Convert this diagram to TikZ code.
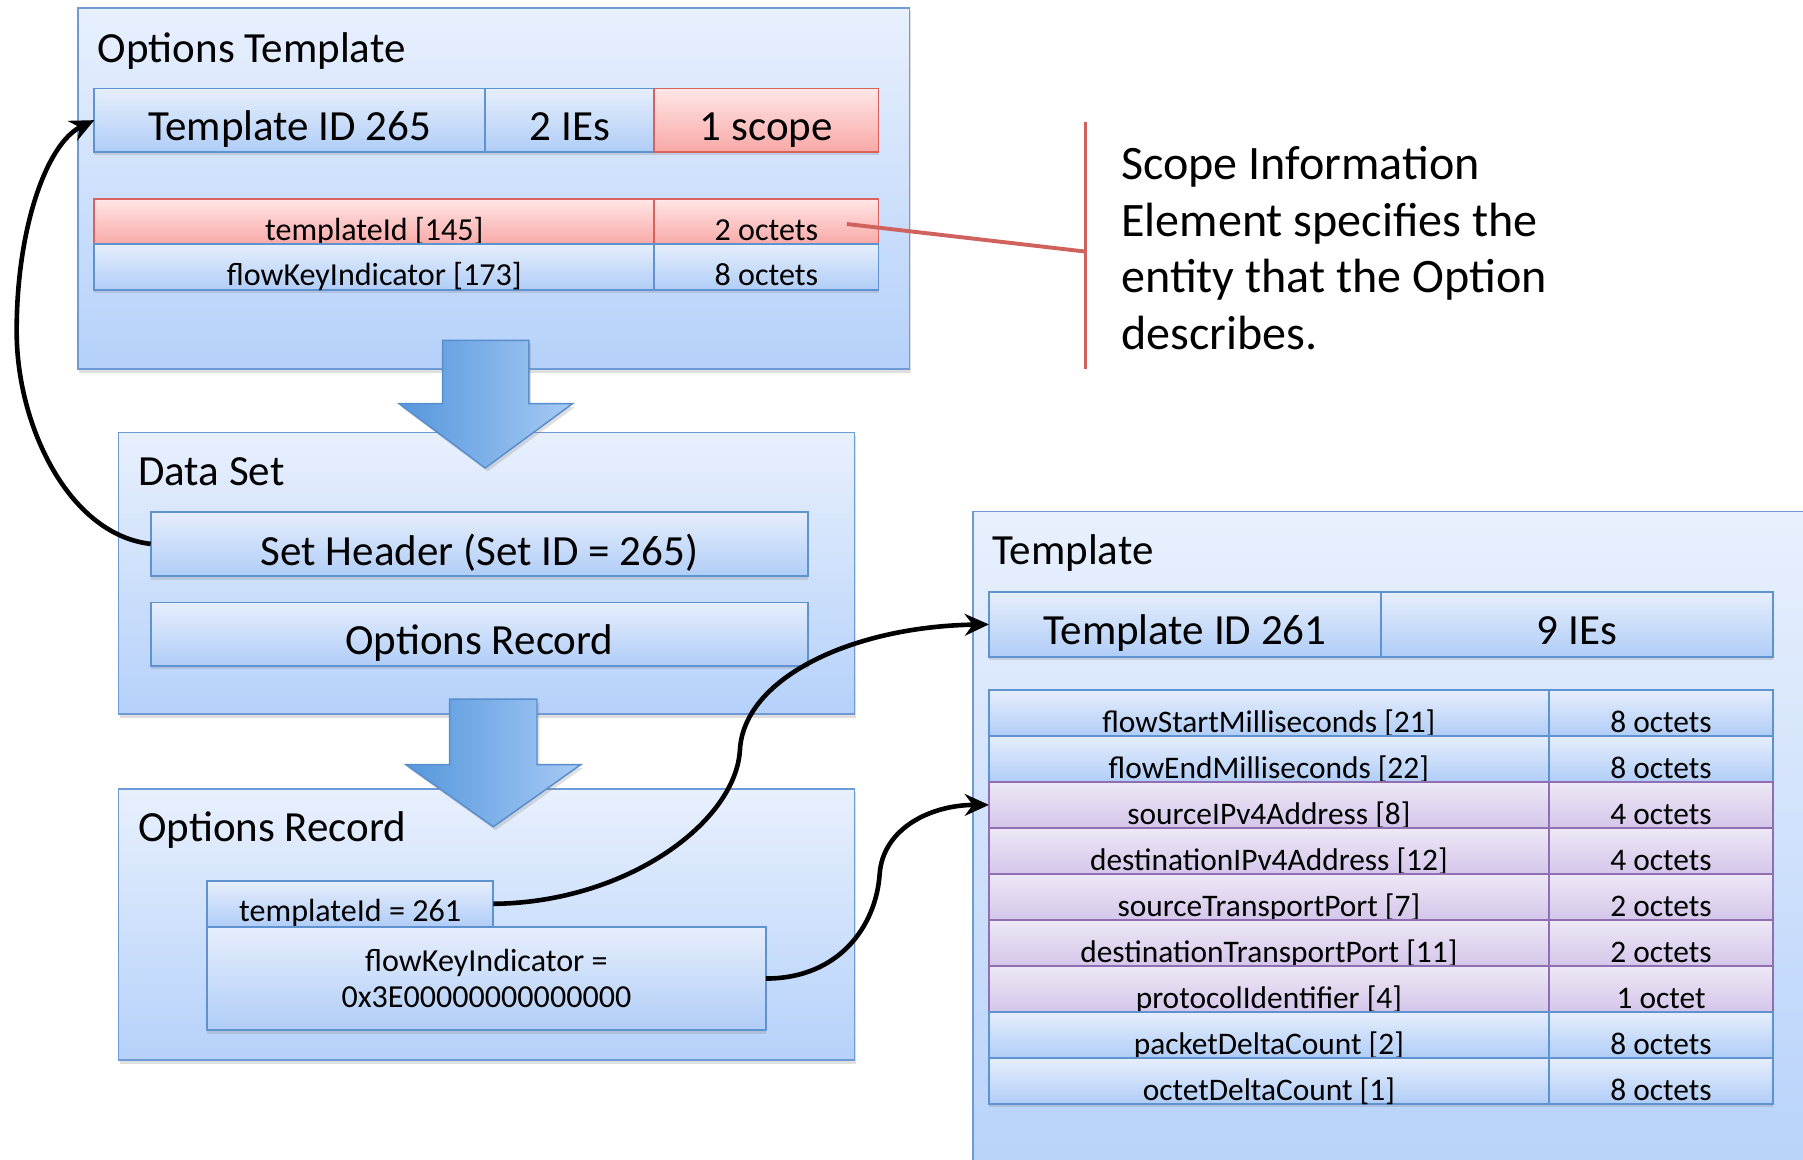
\documentclass[tikz,border=0pt]{standalone}
\usepackage{fontspec}
\setmainfont{Carlito}
\usetikzlibrary{arrows.meta,shadows}
\definecolor{panTop}{HTML}{E8F0FD}
\definecolor{panBot}{HTML}{B5D1FA}
\definecolor{panLine}{HTML}{6E9BD5}
\definecolor{celTop}{HTML}{E6EEFC}
\definecolor{celBot}{HTML}{B0CDF7}
\definecolor{celLine}{HTML}{5F93D0}
\definecolor{redTop}{HTML}{FFE6E6}
\definecolor{redBot}{HTML}{F8A9A7}
\definecolor{redLine}{HTML}{D9625D}
\definecolor{purTop}{HTML}{EEE8F6}
\definecolor{purBot}{HTML}{D4C6EA}
\definecolor{purLine}{HTML}{8D6FB2}
\definecolor{arrL}{HTML}{5597DC}
\definecolor{arrR}{HTML}{A6CAF5}
\definecolor{arrLine}{HTML}{5A8DCC}
\definecolor{calloutCol}{HTML}{D0625D}
\newcommand\myTitleFont{\fontsize{37.4}{44}\selectfont}
\newcommand\myRowFont{\fontsize{27.9}{32}\selectfont}
\newcommand\mySmallFont{\fontsize{27.3}{32}\selectfont}
\newcommand\myCallFont{\fontsize{41.8}{49.3}\selectfont}
\tikzset{
  basebox/.style={inner sep=0pt, outer sep=0pt, anchor=north west},
  panel/.style={basebox, draw=panLine, line width=1.3pt, top color=panTop, bottom color=panBot,
    drop shadow={shadow xshift=1pt, shadow yshift=-3pt, opacity=0.25}},
  bcell/.style={basebox, draw=celLine, line width=1.6pt, top color=celTop, bottom color=celBot,
    drop shadow={shadow xshift=0pt, shadow yshift=-3pt, opacity=0.25}},
  rcell/.style={basebox, draw=redLine, line width=1.6pt, top color=redTop, bottom color=redBot,
    drop shadow={shadow xshift=0pt, shadow yshift=-3pt, opacity=0.25}},
  pcell/.style={basebox, draw=purLine, line width=1.6pt, top color=purTop, bottom color=purBot,
    drop shadow={shadow xshift=0pt, shadow yshift=-3pt, opacity=0.25}},
  hdr/.style={font=\myTitleFont, minimum height=55pt, text depth=0pt},
  orow/.style={font=\myRowFont, minimum height=39.5pt, text height=32pt, text depth=0pt},
  trow/.style={font=\mySmallFont, minimum height=40pt, text height=34pt, text depth=0pt},
  ptitle/.style={anchor=base west, inner sep=0pt, font=\myTitleFont},
  blockarrow/.style={draw=arrLine, line width=1.3pt, left color=arrL, right color=arrR,
    drop shadow={shadow xshift=2pt, shadow yshift=-3pt, opacity=0.25}},
  conn/.style={line width=4pt, -{Stealth[length=21pt,width=19pt,inset=7pt]}},
  calltext/.style={anchor=base west, inner sep=0pt, font=\myCallFont}
}
\begin{document}
\begin{tikzpicture}[x=1pt,y=-1pt]
\useasboundingbox (0,0) rectangle (1568,1008);
\begin{scope}
\clip (0,0) rectangle (1568,1008);

% ---------- Options Template ----------
\node[panel, minimum width=723pt, minimum height=314pt] (optpanel) at (68,7) {};
\node[ptitle] (opttitle) at (85,54) {Options Template};
\node[bcell, hdr, minimum width=340pt, text height=36pt] (tid265) at (82,77) {Template ID 265};
\node[bcell, hdr, minimum width=147pt, text height=36pt] (ies2) at (422,77) {2 IEs};
\node[rcell, hdr, minimum width=195pt, text height=36pt] (scope1) at (569,77) {1 scope};
\node[rcell, orow, minimum width=487pt] (tidrow) at (82,173) {templateId [145]};
\node[rcell, orow, minimum width=195pt] (tidoct) at (569,173) {2 octets};
\node[bcell, orow, minimum width=487pt] (fkirow) at (82,212.5) {flowKeyIndicator [173]};
\node[bcell, orow, minimum width=195pt] (fkioct) at (569,212.5) {8 octets};

% ---------- Data Set ----------
\node[panel, minimum width=640pt, minimum height=245pt] (dspanel) at (103,376) {};
\node[ptitle] (dstitle) at (120,422) {Data Set};
\node[bcell, font=\myTitleFont, minimum width=572pt, minimum height=56pt, text height=37pt, text depth=0pt] (sethdr) at (131,445) {Set Header (Set ID = 265)};
\node[bcell, font=\myTitleFont, minimum width=572pt, minimum height=55pt, text height=36pt, text depth=0pt] (optrec) at (131,524) {Options Record};

% ---------- Options Record ----------
\node[panel, minimum width=640pt, minimum height=236pt] (orpanel) at (103,686) {};
\node[ptitle] (ortitle) at (120,732) {Options Record};
\node[bcell, font=\myRowFont, minimum width=249pt, minimum height=40pt, text height=31pt, text depth=0pt] (tid261rec) at (180,766) {templateId = 261};
\node[bcell, font=\myRowFont, minimum width=486pt, minimum height=90pt, align=center] (fkirec) at (180,806) {flowKeyIndicator =\\0x3E00000000000000};

% ---------- Template ----------
\node[panel, minimum width=740pt, minimum height=600pt] (tplpanel) at (846,445) {};
\node[ptitle] (tpltitle) at (863,491) {Template};
\node[bcell, font=\myTitleFont, minimum width=341pt, minimum height=56pt, text height=35pt, text depth=0pt] (tid261) at (860,515) {Template ID 261};
\node[bcell, font=\myTitleFont, minimum width=341pt, minimum height=56pt, text height=35pt, text depth=0pt] (ies9) at (1201,515) {9 IEs};

\node[bcell, trow, minimum width=487pt] (r1) at (860,600) {flowStartMilliseconds [21]};
\node[bcell, trow, minimum width=195pt] (v1) at (1347,600) {8 octets};
\node[bcell, trow, minimum width=487pt] (r2) at (860,640) {flowEndMilliseconds [22]};
\node[bcell, trow, minimum width=195pt] (v2) at (1347,640) {8 octets};
\node[pcell, trow, minimum width=487pt] (r3) at (860,680) {sourceIPv4Address [8]};
\node[pcell, trow, minimum width=195pt] (v3) at (1347,680) {4 octets};
\node[pcell, trow, minimum width=487pt] (r4) at (860,720) {destinationIPv4Address [12]};
\node[pcell, trow, minimum width=195pt] (v4) at (1347,720) {4 octets};
\node[pcell, trow, minimum width=487pt] (r5) at (860,760) {sourceTransportPort [7]};
\node[pcell, trow, minimum width=195pt] (v5) at (1347,760) {2 octets};
\node[pcell, trow, minimum width=487pt] (r6) at (860,800) {destinationTransportPort [11]};
\node[pcell, trow, minimum width=195pt] (v6) at (1347,800) {2 octets};
\node[pcell, trow, minimum width=487pt] (r7) at (860,840) {protocolIdentifier [4]};
\node[pcell, trow, minimum width=195pt] (v7) at (1347,840) {1 octet};
\node[bcell, trow, minimum width=487pt] (r8) at (860,880) {packetDeltaCount [2]};
\node[bcell, trow, minimum width=195pt] (v8) at (1347,880) {8 octets};
\node[bcell, trow, minimum width=487pt] (r9) at (860,920) {octetDeltaCount [1]};
\node[bcell, trow, minimum width=195pt] (v9) at (1347,920) {8 octets};

% ---------- block arrows ----------
\path[blockarrow] (385,296) -- (460,296) -- (460,351) -- (498,351) -- (422,407) -- (347,351) -- (385,351) -- cycle;
\path[blockarrow] (391,608) -- (467,608) -- (467,665) -- (505,665) -- (429,719) -- (353,665) -- (391,665) -- cycle;

% ---------- callout ----------
\coordinate (ctop) at (944,106);
\coordinate (cbot) at (944,321);
\coordinate (cmid) at (944,218.8);
\coordinate (cstart) at (736.5,194.8);
\draw[calloutCol, line width=3.4pt] (ctop) -- (cbot);
\draw[calloutCol, line width=3.4pt] (cstart) -- (cmid);
\node[calltext] (call1) at (975,156) {Scope Information};
\node[calltext] (call2) at (975,205.3) {Element specifies the};
\node[calltext] (call3) at (975,254.6) {entity that the Option};
\node[calltext] (call4) at (975,304) {describes.};

% ---------- connectors ----------
\coordinate (k1) at (14.5,287);
\draw[conn] (sethdr.west) .. controls (60,465) and (14,370) .. (k1)
  .. controls (14.5,200) and (40,125) .. (tid265.west);
\coordinate (k2) at (643.5,652);
\draw[conn] (tid261rec.east) .. controls (545,785) and (640,715) .. (k2)
  .. controls (647,590) and (740,545) .. (tid261.west);
\coordinate (k3) at (765,760);
\draw[conn] (fkirec.east) .. controls (730,851) and (762,805) .. (k3)
  .. controls (768,720) and (810,700) .. (r3.west);
\end{scope}
\end{tikzpicture}
\end{document}
